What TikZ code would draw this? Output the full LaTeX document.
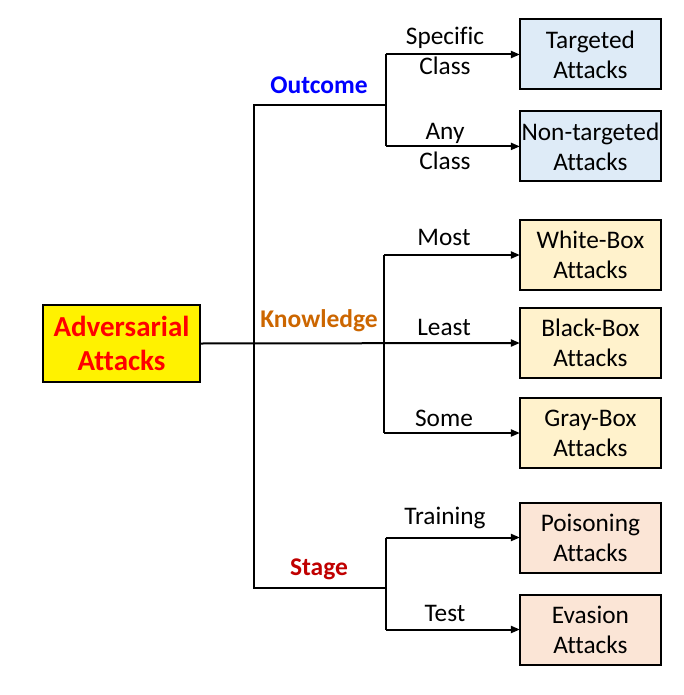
\documentclass[tikz,border=0pt]{standalone}
\usepackage{fontspec}
\setmainfont[Ligatures=CommonOff]{Carlito}
\usetikzlibrary{arrows.meta}
\definecolor{bluefill}{RGB}{222,235,247}
\definecolor{orangefill}{RGB}{255,242,204}
\definecolor{peachfill}{RGB}{251,229,214}
\definecolor{outblue}{RGB}{0,0,255}
\definecolor{knoworange}{RGB}{204,102,0}
\definecolor{stagered}{RGB}{192,0,0}
\tikzset{
  leaf/.style={draw=black, line width=2pt, minimum width=141pt, minimum height=70pt,
    inner sep=0pt, align=center, font=\fontsize{25.3}{30}\selectfont},
  cat/.style={font=\fontsize{25.5}{30}\selectfont\bfseries, inner sep=0pt},
  elab/.style={font=\fontsize{25.3}{30}\selectfont, align=center, inner sep=0pt},
  conn/.style={line width=2pt, draw=black},
  arr/.style={conn, -{Triangle[length=9pt,width=7pt]}, shorten >=-1pt}
}
\begin{document}
\begin{tikzpicture}[x=1pt,y=-1pt]
\useasboundingbox (0,0) rectangle (683,695);

% root
\node[draw=black, line width=2pt, fill=yellow, minimum width=157pt, minimum height=77pt,
  inner sep=0pt, align=center, text=red, font=\fontsize{29}{34}\selectfont\bfseries]
  (root) at (121.5,343.5) {Adversarial\\Attacks};

% leaves
\node[leaf, fill=bluefill] (targ) at (590.4,54.5) {Targeted\\Attacks};
\node[leaf, fill=bluefill] (nont) at (590.4,146.4) {Non-targeted\\Attacks};
\node[leaf, fill=orangefill] (white) at (590.4,255) {White-Box\\Attacks};
\node[leaf, fill=orangefill] (black) at (590.4,343) {Black-Box\\Attacks};
\node[leaf, fill=orangefill] (gray) at (590.4,433) {Gray-Box\\Attacks};
\node[leaf, fill=peachfill] (pois) at (590.4,537.5) {Poisoning\\Attacks};
\node[leaf, fill=peachfill] (evas) at (590.4,629.5) {Evasion\\Attacks};

% junction coordinates
\coordinate (tt) at (254,105);
\coordinate (tb) at (254,588);
\coordinate (ob) at (385.5,105);
\coordinate (sb) at (385.5,588);
\coordinate (o1) at (385.5,54.5);
\coordinate (o2) at (385.5,146.4);
\coordinate (k1) at (384,255);
\coordinate (k3) at (384,433);
\coordinate (s1) at (385.5,537.5);
\coordinate (s2) at (385.5,629.5);

% trunk
\draw[conn] (ob) -- (tt) -- (tb) -- (sb);
\draw[arr] (root.east) -- (black.west);

% outcome
\draw[conn] (o1) -- (o2);
\draw[arr] (o1) -- (targ.west);
\draw[arr] (o2) -- (nont.west);

% knowledge
\draw[conn] (k1) -- (k3);
\draw[arr] (k1) -- (white.west);
\draw[arr] (k3) -- (gray.west);

% stage
\draw[conn] (s1) -- (s2);
\draw[arr] (s1) -- (pois.west);
\draw[arr] (s2) -- (evas.west);

% category labels
\node[cat, text=outblue] (lout) at (319,85) {Outcome};
\node[cat, text=knoworange] (lknow) at (319,321) {Knowledge};
\node[cat, text=stagered] (lstage) at (319,569) {Stage};

% edge labels
\node[elab] (lspec) at (445,50.5) {Specific\\Class};
\node[elab] (lany) at (445,146.5) {Any\\Class};
\node[elab] (lmost) at (444,237) {Most};
\node[elab] (lleast) at (444,327) {Least};
\node[elab] (lsome) at (444,418) {Some};
\node[elab] (ltrain) at (445,518) {Training};
\node[elab] (ltest) at (445,613) {Test};
\end{tikzpicture}
\end{document}
